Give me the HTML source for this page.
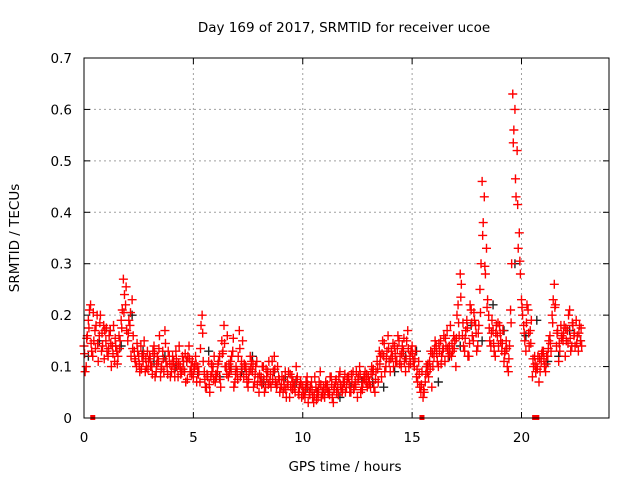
<!DOCTYPE html>
<html><head><meta charset="utf-8"><style>
html,body{margin:0;padding:0;background:#fff}
svg{display:block;font-family:"DejaVu Sans","Liberation Sans",sans-serif}
</style></head><body>
<svg id="chart" width="640" height="480">
<text x="344" y="32" text-anchor="middle" font-size="13.5">Day 169 of 2017, SRMTID for receiver ucoe</text>
<text x="0" y="0" transform="translate(19,238) rotate(-90)" text-anchor="middle" font-size="13.5">SRMTID / TECUs</text>
<text x="345" y="471" text-anchor="middle" font-size="13.5">GPS time / hours</text>
<g id="grid"></g>
<g id="ticks"></g>
<g id="marks"></g>
<rect x="84" y="58" width="525" height="360" fill="none" stroke="#000" stroke-width="1"/>
</svg>
<script>
const xTicks=[0,5,10,15,20];
const yTicks=[0,0.1,0.2,0.3,0.4,0.5,0.6,0.7];
const yTickLabels=["0","0.1","0.2","0.3","0.4","0.5","0.6","0.7"];
const timeStep=0.1;
const redA=[.14,.10,.19,.22,.12,.17,.20,.16,.13,.18,
.15,.12,.17,.14,.11,.13,.16,.19,.27,.22,
.15,.18,.23,.13,.10,.12,.14,.11,.09,.13,
.12,.10,.14,.09,.11,.08,.13,.17,.10,.12,
.09,.11,.13,.08,.10,.12,.09,.11,.14,.10,
.08,.12,.10,.07,.20,.09,.06,.11,.08,.10,
.07,.09,.12,.15,.18,.10,.08,.11,.13,.07,
.09,.17,.11,.08,.10,.06,.12,.09,.07,.11,
.05,.08,.10,.06,.09,.07,.11,.12,.06,.08,
.06,.05,.09,.07,.04,.08,.06,.10,.05,.07,
.06,.04,.08,.05,.07,.03,.06,.04,.09,.05,
.04,.06,.05,.08,.03,.07,.06,.09,.05,.07,
.06,.08,.05,.09,.07,.04,.10,.06,.08,.07,
.08,.06,.09,.05,.11,.13,.08,.12,.10,.16,
.09,.12,.14,.11,.15,.10,.13,.09,.17,.12,
.14,.10,.08,.11,.05,.04,.07,.09,.11,.06,
.12,.14,.10,.15,.13,.11,.17,.14,.12,.16,
.10,.22,.28,.16,.13,.19,.12,.21,.15,.18,
.14,.25,.46,.43,.33,.20,.14,.17,.12,.16,
.18,.13,.11,.15,.09,.21,.63,.60,.52,.36,
.23,.18,.13,.21,.17,.08,.12,.10,.07,.11,
.13,.09,.12,.16,.20,.26,.14,.11,.18,.15,
.12,.17,.21,.14,.16,.19,.13,.15];
const redB=[.09,.16,.21,.13,.15,.18,.11,.20,.14,.17,
.13,.16,.10,.18,.14,.12,.15,.21,.24,.17,
.19,.12,.16,.11,.13,.09,.12,.15,.10,.11,
.10,.13,.08,.12,.16,.10,.09,.11,.13,.08,
.12,.08,.10,.14,.09,.11,.07,.12,.09,.11,
.10,.07,.09,.18,.11,.06,.08,.05,.09,.12,
.08,.11,.06,.13,.10,.16,.09,.12,.06,.10,
.12,.08,.15,.10,.07,.09,.11,.06,.10,.08,
.07,.10,.05,.08,.11,.06,.09,.07,.10,.05,
.08,.06,.04,.09,.06,.07,.05,.08,.06,.04,
.05,.07,.03,.06,.04,.08,.05,.07,.04,.06,
.07,.05,.08,.04,.06,.05,.08,.06,.07,.05,
.08,.05,.07,.06,.09,.08,.05,.07,.09,.06,
.07,.10,.06,.09,.07,.12,.15,.09,.13,.11,
.13,.10,.11,.16,.12,.14,.11,.15,.10,.13,
.11,.13,.07,.06,.09,.05,.10,.08,.13,.10,
.15,.11,.13,.12,.16,.14,.12,.18,.13,.15,
.20,.16,.26,.14,.17,.12,.22,.16,.19,.13,
.18,.30,.38,.28,.23,.15,.19,.13,.18,.14,
.15,.17,.13,.10,.14,.30,.56,.43,.33,.28,
.20,.15,.22,.14,.19,.10,.09,.12,.09,.13,
.10,.12,.15,.13,.23,.22,.17,.13,.16,.18,
.15,.20,.13,.18,.14,.16,.18,.14];
const redC=[.125,.155,.175,.145,.205,.135,.145,.185,.165,.115,
.175,.135,.145,.125,.155,.105,.135,.175,.205,.255,
.165,.205,.135,.115,.145,.105,.095,.125,.115,.095,
.115,.085,.125,.105,.135,.095,.115,.145,.085,.105,
.105,.095,.115,.105,.085,.095,.125,.075,.115,.085,
.095,.105,.085,.135,.165,.075,.085,.065,.105,.075,
.085,.105,.075,.125,.145,.085,.105,.095,.155,.085,
.075,.135,.095,.105,.085,.075,.095,.105,.085,.065,
.085,.065,.075,.095,.065,.085,.075,.095,.065,.075,
.065,.075,.055,.065,.085,.055,.065,.075,.045,.065,
.045,.055,.065,.045,.055,.045,.035,.055,.065,.045,
.055,.065,.045,.065,.055,.075,.045,.065,.055,.085,
.075,.065,.085,.055,.065,.075,.085,.055,.075,.085,
.065,.085,.095,.075,.095,.105,.125,.145,.115,.135,
.115,.145,.125,.135,.105,.125,.155,.115,.135,.105,
.125,.115,.095,.085,.065,.055,.085,.105,.095,.125,
.135,.125,.145,.105,.135,.155,.135,.125,.145,.135,
.155,.185,.235,.185,.155,.175,.145,.185,.205,.165,
.165,.205,.355,.295,.215,.175,.165,.145,.165,.185,
.165,.145,.125,.135,.115,.185,.535,.465,.415,.305,
.215,.165,.185,.165,.145,.115,.105,.095,.115,.125,
.115,.105,.135,.145,.185,.215,.165,.145,.155,.165,
.175,.145,.155,.185,.165,.145,.165,.175];
const blackStep=0.5;
const blackVals=[.12,.15,.17,.14,.20,.13,.11,.12,.10,.11,.09,.13,.08,.10,.09,.12,.07,.09,.08,.07,.06,.05,.05,.04,.06,.07,.07,.06,.09,.12,.13,.10,.07,.12,.14,.18,.15,.22,.17,.30,.16,.19,.11,.12,.17,.15];
const gapTimes=[0.4,15.45,20.6,20.7];

const X0=84,X1=609,Y0=418,Y1=58,XMAX=24,YMAX=0.7;
function xs(t){return X0+(X1-X0)*t/XMAX;}
function ys(v){return Y0-(Y0-Y1)*v/YMAX;}
const NS="http://www.w3.org/2000/svg";
function mk(tag,attrs,parent){const e=document.createElementNS(NS,tag);for(const k in attrs)e.setAttribute(k,attrs[k]);parent.appendChild(e);return e;}
const grid=document.getElementById('grid'),ticks=document.getElementById('ticks'),marks=document.getElementById('marks');
xTicks.forEach(t=>{const x=xs(t);
 if(t>0){const g=mk('line',{x1:x,x2:x,y1:Y1,y2:Y0,stroke:'#a0a0a0','stroke-dasharray':'2,3'},grid);
 
 }
 mk('line',{x1:x,x2:x,y1:Y0,y2:Y0-6,stroke:'#000'},ticks);
 mk('line',{x1:x,x2:x,y1:Y1,y2:Y1+6,stroke:'#000'},ticks);
 const l=mk('text',{x:x,y:Y0+24,'text-anchor':'middle','font-size':'13.5'},ticks);l.textContent=t;
 
 
});
yTicks.forEach((v,i)=>{const y=ys(v);
 if(v>0&&v<YMAX){const g=mk('line',{x1:X0,x2:X1,y1:y,y2:y,stroke:'#a0a0a0','stroke-dasharray':'2,3'},grid);
 
 }
 mk('line',{x1:X0,x2:X0+6,y1:y,y2:y,stroke:'#000'},ticks);
 mk('line',{x1:X1,x2:X1-6,y1:y,y2:y,stroke:'#000'},ticks);
 const l=mk('text',{x:X0-12,y:y+5,'text-anchor':'end','font-size':'13.5'},ticks);l.textContent=yTickLabels[i];
 
 
});
function plus(t,v,color,name){const x=xs(t),y=ys(v);
 const p=mk('path',{d:`M${x-4.5},${y}H${x+4.5}M${x},${y-4.5}V${y+4.5}`,stroke:color,'stroke-width':'1.4',fill:'none'},marks);
 
 
}
blackVals.forEach((v,i)=>plus(i*blackStep+0.2,v,'#222','black-point'));
redA.forEach((v,i)=>plus(i*timeStep,v,'#f00','red-point'));
redB.forEach((v,i)=>plus(i*timeStep+0.05,v,'#f00','red-point'));
redC.forEach((v,i)=>plus(i*timeStep+0.025,v,'#f00','red-point'));
gapTimes.forEach(t=>{const r=mk('rect',{x:xs(t)-2.5,y:Y0-3,width:5,height:5,fill:'#f00'},marks);
 
 
});
</script>
</body></html>
